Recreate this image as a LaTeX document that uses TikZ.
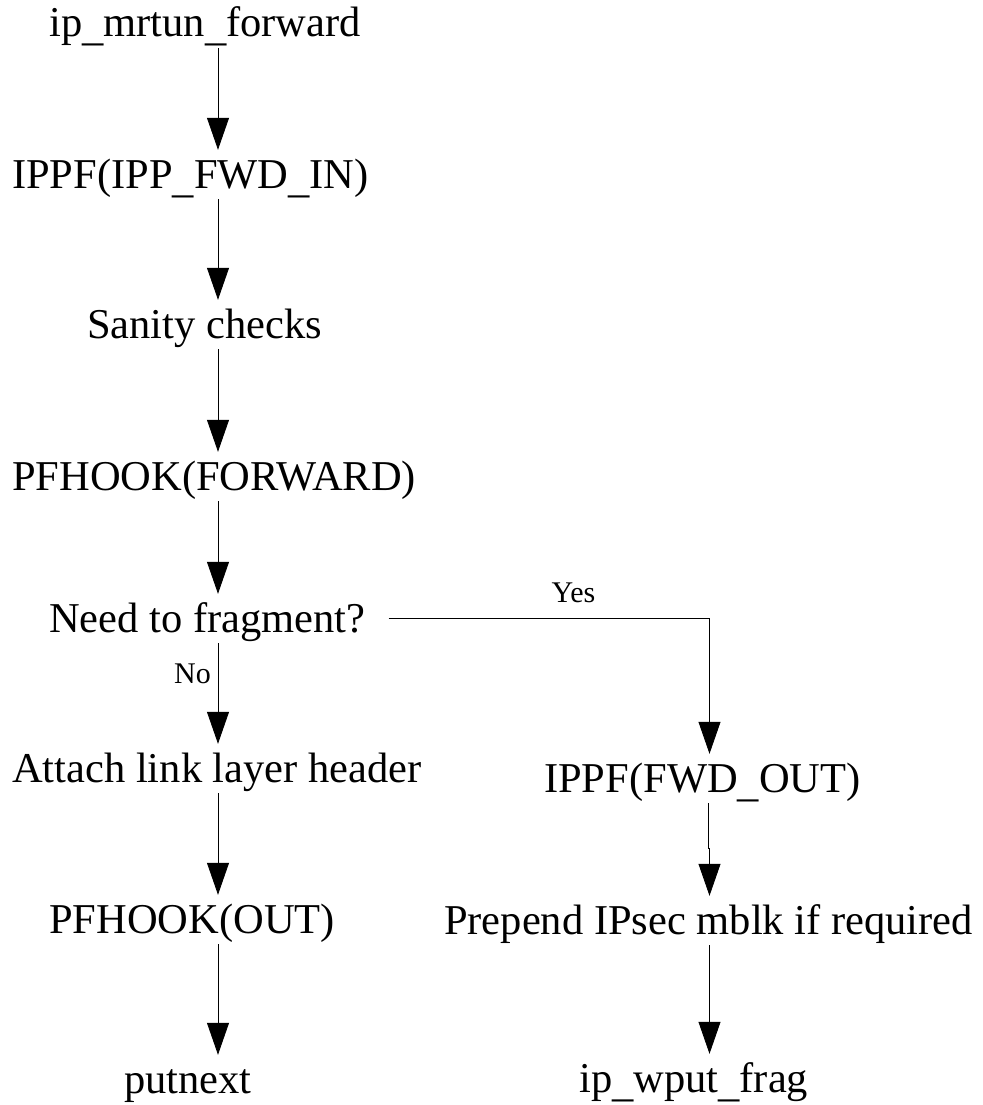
\documentclass[tikz,border=0pt]{standalone}
\usepackage{fontspec}
\setmainfont{Liberation Serif}
\usetikzlibrary{arrows.meta}
% underscore set a little below the baseline
\newcommand{\lowusc}{\raisebox{-4pt}{\_}}
\begin{document}
\begin{tikzpicture}[x=1pt,y=-1pt,
  stepnode/.style={anchor=base west, inner sep=0pt,
    font=\fontsize{42.5}{50}\selectfont, text height=38pt, text depth=11pt},
  edgelabel/.style={anchor=base, inner sep=0pt, font=\fontsize{30}{36}\selectfont},
  flow/.style={draw=black, line width=0.8pt,
    -{Triangle[width=22pt,length=32pt]}}]
\useasboundingbox (0,0) rectangle (982,1105);

% column axes for the connectors
\coordinate (L) at (218,0);
\coordinate (R) at (709.5,0);
\coordinate (Rup) at (708,0);

% main path
\node[stepnode] (n1) at (49,37)   {ip\lowusc mrtun\lowusc forward};
\node[stepnode] (n2) at (12,188)  {IPPF(IPP\lowusc FWD\lowusc IN)};
\node[stepnode] (n3) at (87,338)  {Sanity checks};
\node[stepnode] (n4) at (12,490)  {PFHOOK(FORWARD)};
\node[stepnode] (n5) at (49,632)  {Need to fragment?};
\node[stepnode] (n6) at (12,782)  {Attach link layer header};
\node[stepnode] (n7) at (49,933)  {PFHOOK(OUT)};
\node[stepnode] (n8) at (124,1093){putnext};

% fragmentation path
\node[stepnode] (r1) at (544,792) {IPPF(FWD\lowusc OUT)};
\node[stepnode] (r2) at (444,934) {Prepend IPsec mblk if required};
\node[stepnode] (r3) at (579,1092){ip\lowusc wput\lowusc frag};

% connectors
\draw[flow] (n1.south -| L) -- (n2.north -| L);
\draw[flow] (n2.south -| L) -- (n3.north -| L);
\draw[flow] (n3.south -| L) -- (n4.north -| L);
\draw[flow] (n4.south -| L) -- (n5.north -| L);
\draw[flow] (n5.south -| L) -- (n6.north -| L);
\draw[flow] (n6.south -| L) -- (n7.north -| L);
\draw[flow] (n7.south -| L) -- (n8.north -| L);

\draw[flow] ([xshift=23pt]n5.east) -| (r1.north -| R);
\draw[flow] (r1.south -| Rup) -- ++(0,45) -| (r2.north -| R);
\draw[flow] (r2.south -| R) -- (r3.north -| R);

% branch labels
\node[edgelabel] (yes) at (573.5,602.5) {Yes};
\node[edgelabel, anchor=base east] (no) at (211,683) {No};
\end{tikzpicture}
\end{document}
